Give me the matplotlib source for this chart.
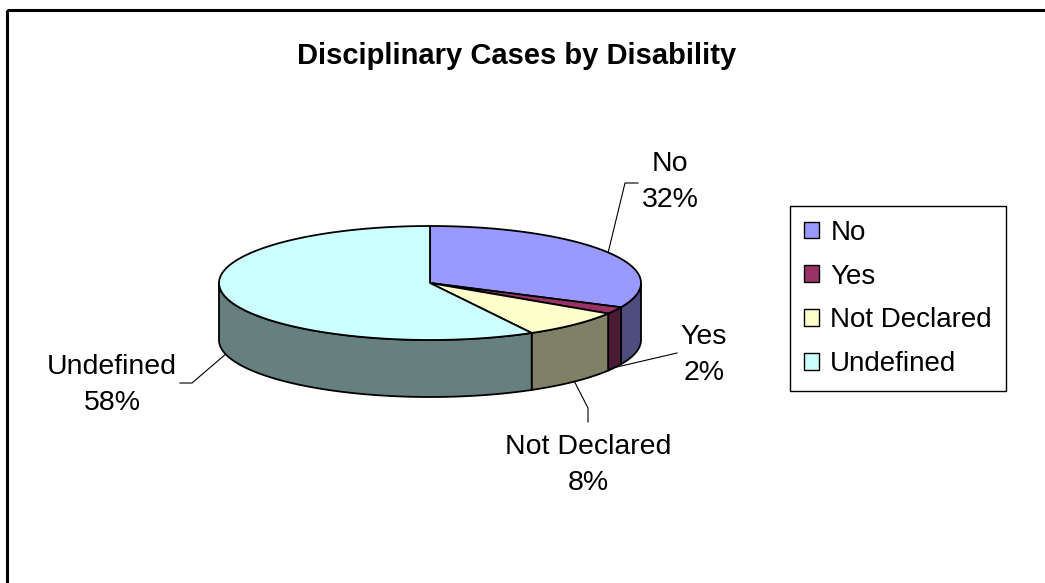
import numpy as np
import matplotlib
matplotlib.use('Agg')
import matplotlib.pyplot as plt
from matplotlib.patches import Polygon, Rectangle, Patch

categories = ['No', 'Yes', 'Not Declared', 'Undefined']
values = [32, 2, 8, 58]
top_colors = ['#9999FF', '#993366', '#FFFFCC', '#CCFFFF']
side_colors = ['#4D4D80', '#4D1A33', '#808066', '#668080']
title = 'Disciplinary Cases by Disability'

plt.rcParams['font.family'] = ['Liberation Sans', 'DejaVu Sans']

W, H = 1045, 583
fig = plt.figure(figsize=(W / 100, H / 100), dpi=100)
ax = fig.add_axes([0, 0, 1, 1])
ax.set_xlim(0, W)
ax.set_ylim(H, 0)
ax.axis('off')

# outer chart border
ax.add_patch(Rectangle((6.5, 9.5), 1200, 800, fill=False, edgecolor='black', lw=2.2, zorder=0))

cx, cy, rx, ry, depth = 430, 283, 211, 57, 57


def arc(t0, t1, dz=0, n=120):
    t = np.radians(np.linspace(t0, t1, n))
    return np.column_stack([cx + rx * np.cos(t), cy - ry * np.sin(t) + dz])


total = float(sum(values))
angles = [90.0]
for v in values:
    angles.append(angles[-1] - 360.0 * v / total)

# side walls (front half only)
for i in range(len(values)):
    a0, a1 = angles[i], angles[i + 1]
    hi, lo = min(a0, 0.0), max(a1, -180.0)
    if hi > lo:
        top = arc(hi, lo)
        bot = arc(lo, hi, depth)
        ax.add_patch(Polygon(np.vstack([top, bot]), closed=True, facecolor=side_colors[i],
                             edgecolor='black', lw=1.3, joinstyle='round', zorder=2))

# top faces
for i in range(len(values)):
    a0, a1 = angles[i], angles[i + 1]
    pts = np.vstack([[cx, cy], arc(a0, a1)])
    ax.add_patch(Polygon(pts, closed=True, facecolor=top_colors[i], edgecolor='black',
                         lw=1.3, joinstyle='round', zorder=3))

# data labels with leader lines
label_pos = [(670, 164), (704, 337), (588, 447), (112, 367)]
line_gap = 36
bends = [[(625, 183), (638, 183)], [(677, 353)], [(588, 408), (588, 422)], [(192, 383), (180, 383)]]
for i in range(len(values)):
    mid = (angles[i] + angles[i + 1]) / 2.0
    mm = ((mid + 180) % 360) - 180
    front = -180 < mm < 0
    sx, sy = arc(mid, mid, depth if front else 0, n=1)[0]
    xs = [sx] + [b[0] for b in bends[i]]
    ys = [sy] + [b[1] for b in bends[i]]
    ax.plot(xs, ys, color='black', lw=0.8, zorder=4)
    lx, ly = label_pos[i]
    ax.text(lx, ly, categories[i], ha='center', va='center', fontsize=20.5, zorder=5)
    ax.text(lx, ly + line_gap, f'{values[i]:.0f}%', ha='center', va='center',
            fontsize=20.5, zorder=5)

ax.text(517, 56, title, ha='center', va='center', fontsize=21, fontweight='bold')

handles = [Patch(facecolor=c, edgecolor='black', lw=1.0) for c in top_colors]
leg = ax.legend(handles, categories, loc='upper left', bbox_to_anchor=(790, 206),
                bbox_transform=ax.transData, frameon=True, fancybox=False, shadow=False,
                edgecolor='black', framealpha=1, fontsize=20, handlelength=0.55,
                handleheight=0.55, handletextpad=0.4, labelspacing=0.64, borderpad=0.5,
                borderaxespad=0)
leg.get_frame().set_linewidth(1.0)

fig.savefig('out.png', dpi=100)
